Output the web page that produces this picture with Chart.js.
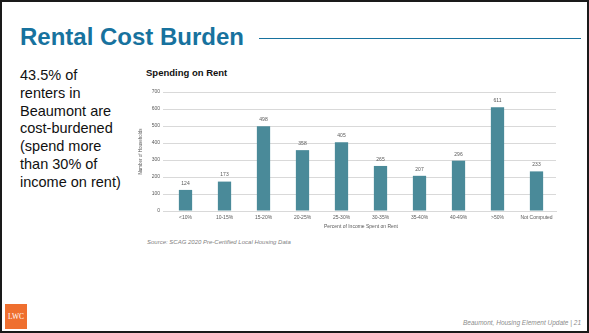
<!DOCTYPE html>
<html>
<head>
<meta charset="utf-8">
<script src="https://cdn.jsdelivr.net/npm/chart.js@4"></script>
<style>
  html, body { margin: 0; padding: 0; }
  body {
    width: 589px; height: 333px; position: relative; overflow: hidden;
    background: #fff; font-family: "Liberation Sans", Arial, sans-serif;
  }
  .frame {
    position: absolute; left: 0; top: 0; width: 585px; height: 329px;
    border: 2px solid #1a1a1a;
  }
  .heading {
    position: absolute; left: 20px; top: 23px; font-size: 24px; font-weight: bold;
    color: #17729e; white-space: nowrap;
  }
  .rule { position: absolute; left: 259px; top: 38px; width: 322px; height: 1px; background: #17729e; }
  .note {
    position: absolute; left: 20px; top: 67px; font-size: 14.5px; line-height: 17.8px; color: #111;
  }
  .chart-title { position: absolute; left: 146px; top: 67px; font-size: 9.5px; font-weight: bold; color: #111; }
  .source { position: absolute; left: 147px; top: 239px; font-size: 6px; font-style: italic; color: #7f7f7f; }
  .logo {
    position: absolute; left: 5px; top: 304px; width: 22px; height: 25px; background: #ef6f2f;
    color: #fff; font-family: "Liberation Serif", serif; font-size: 7.5px; line-height: 25px; text-align: center;
  }
  .footer { position: absolute; right: 8px; top: 319px; font-size: 6.5px; font-style: italic; color: #8c8c8c; }
  #wrap { position: absolute; left: 138px; top: 84px; width: 424px; height: 150px; }
</style>
</head>
<body>
<div class="frame"></div>
<div class="heading">Rental Cost Burden</div>
<div class="rule"></div>
<div class="note">43.5% of<br>renters in<br>Beaumont are<br>cost-burdened<br>(spend more<br>than 30% of<br>income on rent)</div>
<div class="chart-title">Spending on Rent</div>
<div id="wrap"><canvas id="rentChart"></canvas></div>
<div class="source">Source: SCAG 2020 Pre-Certified Local Housing Data</div>
<div class="logo">LWC</div>
<div class="footer">Beaumont, Housing Element Update | 21</div>

<script>
// households by share of income spent on rent
const categories = ['<10%', '10-15%', '15-20%', '20-25%', '25-30%', '30-35%', '35-40%', '40-49%', '>50%', 'Not Computed'];
const households = [124, 173, 498, 358, 405, 265, 207, 296, 611, 233];
const yTicks = [0, 100, 200, 300, 400, 500, 600, 700];

// writes each bar's value just above it
const valueLabels = {
  id: 'valueLabels',
  afterDatasetsDraw(chart) {
    const ctx = chart.ctx;
    const meta = chart.getDatasetMeta(0);
    ctx.save();
    ctx.font = '5px "Liberation Sans", Arial, sans-serif';
    ctx.fillStyle = '#595959';
    ctx.textAlign = 'center';
    ctx.textBaseline = 'bottom';
    meta.data.forEach((bar, i) => {
      ctx.fillText(households[i], bar.x, bar.y - 4);
    });
    ctx.restore();
  }
};

const tickFont = { family: '"Liberation Sans", Arial, sans-serif', size: 5 };

new Chart(document.getElementById('rentChart'), {
  type: 'bar',
  data: {
    labels: categories,
    datasets: [{
      data: households,
      backgroundColor: '#4a8a99',
      barPercentage: 0.34,
      categoryPercentage: 1
    }]
  },
  options: {
    responsive: true,
    maintainAspectRatio: false,
    animation: false,
    layout: { padding: { top: 8, right: 6, left: 0, bottom: 4 } },
    plugins: { legend: { display: false }, tooltip: { enabled: false } },
    scales: {
      x: {
        grid: { display: false, drawTicks: false },
        border: { color: '#d9d9d9' },
        ticks: { font: tickFont, color: '#595959', padding: 4, maxRotation: 0, autoSkip: false },
        title: { display: true, text: 'Percent of Income Spent on Rent', font: tickFont, color: '#595959', padding: { top: 1, bottom: 0 } },
        afterFit(scale) { scale.height = 19; }
      },
      y: {
        min: 0,
        max: 700,
        afterBuildTicks(scale) { scale.ticks = yTicks.map(v => ({ value: v })); },
        grid: { color: '#d9d9d9', drawTicks: true, tickLength: 3, tickColor: '#d9d9d9' },
        border: { display: false },
        ticks: { font: tickFont, color: '#595959', padding: 3 },
        title: { display: true, text: 'Number of Households', font: { family: '"Liberation Sans", Arial, sans-serif', size: 4.5 }, color: '#595959', padding: 0 },
        afterFit(scale) { scale.width = 28; }
      }
    }
  },
  plugins: [valueLabels]
});
</script>
</body>
</html>
